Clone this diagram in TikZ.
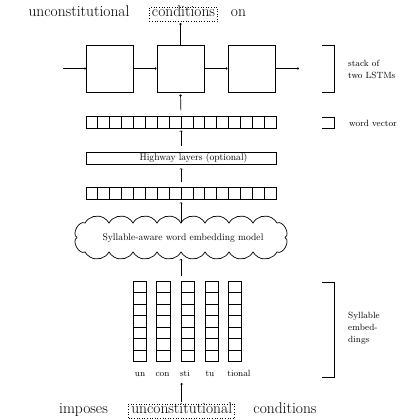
\documentclass[tikz,border=0pt]{standalone}
\usepackage{fontspec}
\usetikzlibrary{arrows.meta,calc}
\begin{document}
\begin{tikzpicture}[x=1pt,y=-1pt,
  ln/.style={line width=0.7pt},
  arr/.style={ln,-{Straight Barb[length=1.2pt,width=2.6pt,line width=0.4pt]}},
  bigtxt/.style={font=\fontsize{15.5}{18}\selectfont,inner sep=0pt,anchor=base},
  dotbox/.style={draw,dotted,line width=0.6pt,inner sep=2.5pt,text height=0.72em,text depth=0.22em},
  lstm/.style={draw,ln,minimum width=47pt,minimum height=47pt,inner sep=0pt},
  vec/.style={draw,ln,minimum width=190pt,minimum height=11.5pt,inner sep=0pt},
  col/.style={draw,ln,minimum width=13.3pt,minimum height=79.3pt,inner sep=0pt},
  midtxt/.style={font=\fontsize{9.6}{11}\selectfont,inner sep=0pt},
  smalltxt/.style={font=\fontsize{9}{12}\selectfont,inner sep=0pt,align=left,anchor=west},
  syl/.style={font=\fontsize{9}{11}\selectfont,inner sep=0pt,anchor=base},
  brk/.style={ln}]
\useasboundingbox (0,0) rectangle (420,420);

% top words
\node[bigtxt] (t1) at (79,17) {unconstitutional};
\node[bigtxt,dotbox,anchor=base] (t2) at (183.5,17) {conditions};
\node[bigtxt] (t3) at (238.5,17) {on};

% LSTMs
\node[lstm] (l1) at (110,68.5) {};
\node[lstm] (l2) at (180.5,68.5) {};
\node[lstm] (l3) at (251.5,68.5) {};
\coordinate (lin) at (63,68.5);
\coordinate (lout) at (299,68.5);
\draw[arr] (lin) -- (l1.west);
\draw[arr] (l1.east) -- (l2.west);
\draw[arr] (l2.east) -- (l3.west);
\draw[arr] (l3.east) -- (lout);
\draw[arr,shorten >=1pt] (l2.north) -- (l2.north |- t2.south);

% word vector
\node[vec] (wv) at (181,122.2) {};
\foreach \i in {1,...,15}
  \draw[ln] ($(wv.north west)!\i/16!(wv.north east)$) -- ($(wv.south west)!\i/16!(wv.south east)$);
\draw[arr,shorten <=5.5pt,shorten >=2pt] (wv.north) -- (l2.south);

% highway
\node[vec,minimum height=12pt] (hw) at (181,158.3) {};
\node[midtxt] (hwt) at (193.5,158.3) {Highway layers (optional)};
\draw[arr,shorten <=6pt,shorten >=2pt] (hw.north) -- (wv.south);

% second vector
\node[vec,minimum height=12pt] (v2) at (181,193.3) {};
\foreach \i in {1,...,15}
  \draw[ln] ($(v2.north west)!\i/16!(v2.north east)$) -- ($(v2.south west)!\i/16!(v2.south east)$);
\draw[arr,shorten <=4.5pt,shorten >=3.5pt] (v2.north) -- (hw.south);

% cloud
\draw[ln] (85,223)
  foreach \k in {0,...,7} { arc[start angle=-150,end angle=-30,radius=13.856] }
  .. controls (282.9,219.8) and (290.9,234.3) .. (285,237.5)
  .. controls (290.9,240.7) and (282.9,255.2) .. (277,252)
  foreach \k in {0,...,7} { arc[start angle=30,end angle=150,radius=13.856] }
  .. controls (79.1,255.2) and (71.1,240.7) .. (77,237.5)
  .. controls (71.1,234.3) and (79.1,219.8) .. (85,223) -- cycle;
\coordinate (cltop) at (181,223);
\coordinate (clbot) at (181,259);
\node[midtxt] (clt) at (183,238) {Syllable-aware word embedding model};
\draw[arr,shorten >=2.5pt] (cltop) -- (v2.south);

% syllable columns
\foreach \n/\x in {1/140,2/163.3,3/187.5,4/211.8,5/235}{
  \node[col] (c\n) at (\x,321.3) {};
  \foreach \i in {1,...,6}
    \draw[ln] ($(c\n.north west)!\i/7!(c\n.south west)$) -- ($(c\n.north east)!\i/7!(c\n.south east)$);
}
\coordinate (ctop) at (181,276);
\draw[arr] (ctop) -- (clbot);
\node[syl] (s1) at (140,376.5) {un};
\node[syl] (s2) at (162.5,376.5) {con};
\node[syl] (s3) at (185,376.5) {sti};
\node[syl] (s4) at (210,376.5) {tu};
\node[syl] (s5) at (239,376.5) {tional};

% bottom words
\node[bigtxt] (b1) at (83.5,413.5) {imposes};
\node[bigtxt,dotbox,anchor=base] (b2) at (181.7,413.5) {unconstitutional};
\node[bigtxt] (b3) at (285,413.5) {conditions};
\coordinate (bup) at (181.7,383);
\draw[arr,shorten <=2pt] (b2.north) -- (bup);

% brackets and side labels
\draw[brk] (322,45) -- (334.5,45) -- (334.5,92) -- (322,92);
\node[smalltxt] (n1) at (348,69) {stack of\\two LSTMs};
\draw[brk] (322,117) -- (334.5,117) -- (334.5,128) -- (322,128);
\node[smalltxt] (n2) at (349,123) {word vector};
\draw[brk] (322,282.3) -- (334.5,282.3) -- (334.5,377.3) -- (322,377.3);
\node[smalltxt] (n3) at (348,328.5) {Syllable\\embed-\\dings};
\end{tikzpicture}
\end{document}
